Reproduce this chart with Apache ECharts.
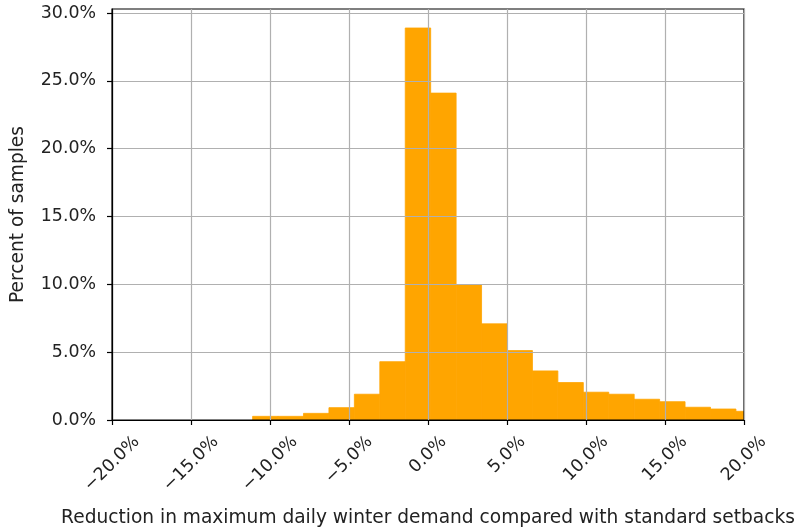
<!DOCTYPE html>
<html>
<head>
<meta charset="utf-8">
<title>Reduction in maximum daily winter demand</title>
<script src="https://cdn.jsdelivr.net/npm/echarts@6/dist/echarts.min.js"></script>
<style>
  html, body { margin: 0; padding: 0; background: #fff; }
  #chart { width: 798px; height: 531px; }
</style>
</head>
<body>
<div id="chart"></div>
<script>
// Histogram bin edges (percent reduction) and share of samples in each bin (percent)
const binEdges = [-11.10, -9.49, -7.88, -6.27, -4.66, -3.05, -1.44, 0.17, 1.78, 3.39,
                  5.00, 6.61, 8.22, 9.83, 11.44, 13.05, 14.66, 16.27, 17.88, 19.49, 21.10];
const samplePercent = [0.27, 0.27, 0.49, 0.91, 1.90, 4.30, 28.9, 24.1, 9.95, 7.09,
                       5.12, 3.62, 2.76, 2.05, 1.90, 1.53, 1.35, 0.94, 0.81, 0.64];

// Axis ticks and their labels
const xTickValues = [-20, -15, -10, -5, 0, 5, 10, 15, 20];
const xTickLabels = ['\u221220.0%', '\u221215.0%', '\u221210.0%', '\u22125.0%', '0.0%',
                     '5.0%', '10.0%', '15.0%', '20.0%'];
const yTickValues = [0, 5, 10, 15, 20, 25, 30];
const yTickLabels = ['0.0%', '5.0%', '10.0%', '15.0%', '20.0%', '25.0%', '30.0%'];

const xLabel = 'Reduction in maximum daily winter demand compared with standard setbacks';
const yLabel = 'Percent of samples';

const FONT = '"DejaVu Sans", "Liberation Sans", sans-serif';
const FS = 17.4;        // tick labels
const FS_NAME = 18.6;   // axis titles
const TEXT_COLOR = '#222';
const BAR_COLOR = '#ffa500';
const GRID_COLOR = '#b0b0b0';

// Bars: one rectangle per bin, [left edge, right edge, percent]
const barData = samplePercent.map((p, i) => [binEdges[i], binEdges[i + 1], p]);

// Measure text width so rotated tick labels can be centred under their ticks
const measureCtx = document.createElement('canvas').getContext('2d');
measureCtx.font = FS + 'px ' + FONT;
function textWidth(s) { return measureCtx.measureText(s).width; }

const chart = echarts.init(document.getElementById('chart'), null, { renderer: 'canvas' });

chart.setOption({
  backgroundColor: '#ffffff',
  animation: false,
  grid: {
    left: 112, right: 54, top: 9, bottom: 111,
    containLabel: false, outerBoundsMode: 'none',
    show: true, borderColor: '#000', borderWidth: 1.2, backgroundColor: 'transparent'
  },
  xAxis: {
    type: 'value', min: -20, max: 20, interval: 5,
    axisLine: { show: true, onZero: false, lineStyle: { color: '#000', width: 1.2 } },
    axisTick: { show: true, inside: false, length: 5, lineStyle: { color: '#000', width: 1.2 } },
    axisLabel: { show: false },
    splitLine: { show: true, lineStyle: { color: GRID_COLOR, width: 1.2 } },
    name: xLabel, nameLocation: 'middle', nameGap: 89,
    nameTextStyle: { fontFamily: FONT, fontSize: FS_NAME, color: TEXT_COLOR }
  },
  yAxis: {
    type: 'value', min: 0, max: 30.3, interval: 5,
    axisLine: { show: true, onZero: false, lineStyle: { color: '#000', width: 1.2 } },
    axisTick: { show: true, inside: false, length: 5, customValues: yTickValues,
                lineStyle: { color: '#000', width: 1.2 } },
    axisLabel: {
      show: true, margin: 16, customValues: yTickValues,
      fontFamily: FONT, fontSize: FS, color: TEXT_COLOR,
      formatter: v => yTickLabels[yTickValues.indexOf(Math.round(v))] || ''
    },
    splitLine: { show: true, lineStyle: { color: GRID_COLOR, width: 1.2 } },
    name: yLabel, nameLocation: 'middle', nameGap: 84,
    nameTextStyle: { fontFamily: FONT, fontSize: FS_NAME, color: TEXT_COLOR }
  },
  series: [
    {
      // histogram bars, drawn beneath the grid lines
      type: 'custom',
      z: -1,
      silent: true,
      data: barData,
      encode: { x: [0, 1], y: 2 },
      renderItem: function (params, api) {
        const p0 = api.coord([api.value(0), 0]);
        const p1 = api.coord([api.value(1), api.value(2)]);
        const rect = echarts.graphic.clipRectByRect(
          { x: p0[0], y: p1[1], width: p1[0] - p0[0], height: p0[1] - p1[1] },
          params.coordSys
        );
        if (!rect) return null;
        return {
          type: 'rect', shape: rect,
          style: { fill: BAR_COLOR, stroke: BAR_COLOR, lineWidth: 0.8 }
        };
      }
    },
    {
      // x tick labels rotated 45 degrees, centred under each tick
      type: 'custom',
      silent: true,
      data: xTickValues.map((v, i) => [v, 0, i]),
      encode: { x: 0, y: 1 },
      renderItem: function (params, api) {
        const idx = api.value(2);
        const txt = xTickLabels[idx];
        const p = api.coord([api.value(0), 0]);
        const bottom = params.coordSys.y + params.coordSys.height;
        const w = textWidth(txt);
        const h = FS * 1.16;
        const cy = bottom + 5 + 7 + 0.3536 * (w + h);
        return {
          type: 'text',
          x: p[0], y: cy,
          rotation: Math.PI / 4,
          style: {
            text: txt, align: 'center', verticalAlign: 'middle',
            fontFamily: FONT, fontSize: FS, fill: TEXT_COLOR
          }
        };
      }
    }
  ]
});
</script>
</body>
</html>
